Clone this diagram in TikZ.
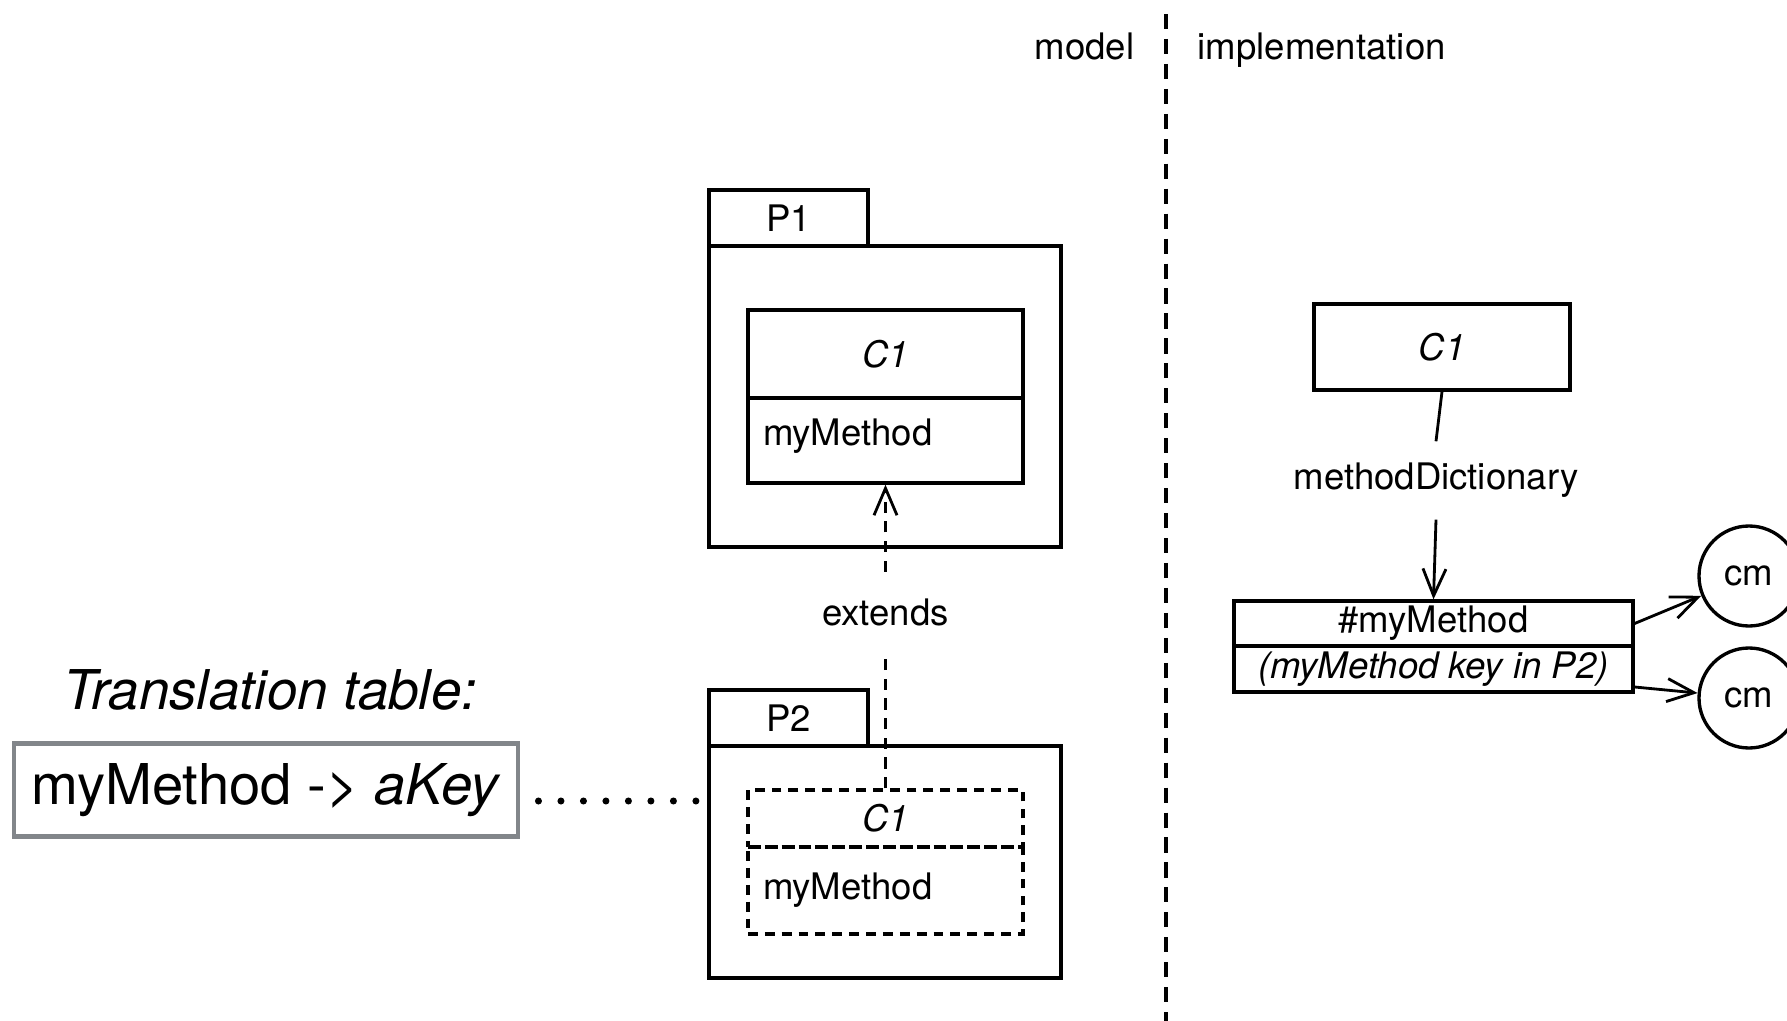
\documentclass[tikz,border=0pt]{standalone}
\usepackage{fontspec}
\setmainfont{TeX Gyre Heros}
\usetikzlibrary{arrows.meta}

\definecolor{tablegray}{RGB}{130,134,138}

\tikzset{
  box/.style={draw, line width=0.95pt, inner sep=0pt},
  dashbox/.style={box, dash pattern=on 2.8pt off 2pt},
  methodcell/.style={text width=24.5mm, inner xsep=1.5mm, align=left},
  openarrow/.style={line width=0.8pt, -{Straight Barb[length=2.7mm, width=2.3mm]}},
  thinline/.style={line width=0.8pt},
  dashline/.style={dash pattern=on 3.2pt off 2.4pt},
  divider/.style={line width=0.9pt, dash pattern=on 4.3pt off 2.8pt},
  dotline/.style={line width=2pt, line cap=round, dash pattern=on 0pt off 6.4pt},
  tablebox/.style={draw=tablegray, line width=1.4pt, minimum width=50.4mm,
    minimum height=9.3mm, inner sep=0pt, font=\fontsize{16pt}{19pt}\selectfont},
  cmcircle/.style={circle, draw, line width=0.95pt, minimum size=10mm, inner sep=0pt}
}

\begin{document}
\begin{tikzpicture}[x=0.1mm, y=-0.1mm, font=\fontsize{10.4pt}{12pt}\selectfont]

  % 剪切画布, 大小和原图一样
  \clip (0,0) rectangle (1787,1021);

  % 中间的竖虚线, 左边 model, 右边 implementation
  \draw[divider] (1166,14) -- (1166,1021);
  \node[anchor=base east, inner sep=0pt] (modellbl) at (1135,60) {model};
  \node[anchor=base west, inner sep=0pt] (impllbl) at (1197,60) {implementation};

  % 包 P1: 标签页 + 主体, 里面是类 C1
  \node[box, minimum width=15.9mm, minimum height=5.6mm] (p1tab) at (788.5,218) {P1};
  \node[box, minimum width=35.2mm, minimum height=30.1mm] (p1body) at (885,396.5) {};
  \node[box, minimum width=27.5mm, minimum height=8.8mm] (c1name) at (885.5,354) {\textit{C1}};
  \node[box, methodcell, minimum height=8.5mm, text depth=1.6mm] (c1meth) at (885.5,440.5) {myMethod};

  % 包 P2: 类 C1 用虚线框
  \node[box, minimum width=15.9mm, minimum height=5.6mm] (p2tab) at (788.5,718) {P2};
  \node[box, minimum width=35.2mm, minimum height=23.2mm] (p2body) at (885,862) {};
  \node[dashbox, minimum width=27.5mm, minimum height=5.7mm] (c2name) at (885.5,818.5) {\textit{C1}};
  \node[dashbox, methodcell, minimum height=8.7mm] (c2meth) at (885.5,890.5) {myMethod};

  % extends 虚线箭头, 标签盖住中间一段
  \draw[openarrow, dashline] (c2name.north) --
    node[pos=0.58, fill=white, inner xsep=1mm, inner ysep=2.5mm] (extlbl) {extends} (c1meth.south);

  % 左边的翻译表, 用点线连到 P2
  \node[font=\fontsize{15.6pt}{18pt}\selectfont\itshape] (ttlbl) at (270,690) {Translation table:};
  \node[tablebox] (ttable) at (266,790) {myMethod -> \textit{aKey}};
  \coordinate (dotstart) at ([xshift=1.8mm, yshift=-1.1mm]ttable.east);
  \draw[dotline] (dotstart) -- ([xshift=-0.4mm]dotstart -| p2body.west);

  % 右边: 实现部分
  \node[box, minimum width=25.6mm, minimum height=8.6mm] (implc1) at (1442,347) {\textit{C1}};
  \node[minimum height=7.7mm, inner sep=0pt] (mdict) at (1436,480.5) {methodDictionary};
  \node[box, minimum width=39.9mm, minimum height=4.5mm] (keytop) at (1433.5,623.5) {\#myMethod};
  \node[box, minimum width=39.9mm, minimum height=4.6mm] (keybot) at (1433.5,669) {\textit{(myMethod key in P2)}};
  \node[cmcircle] (cm1) at (1749,576) {cm};
  \node[cmcircle] (cm2) at (1749,698) {cm};

  % 连线和箭头
  \draw[thinline] (implc1.south) -- (mdict.north);
  \draw[openarrow] (mdict.south) -- (keytop.north);
  \draw[openarrow] (keytop.east) -- (cm1);
  \draw[openarrow] ([yshift=-1.8mm]keybot.east) -- (cm2);

\end{tikzpicture}
\end{document}
